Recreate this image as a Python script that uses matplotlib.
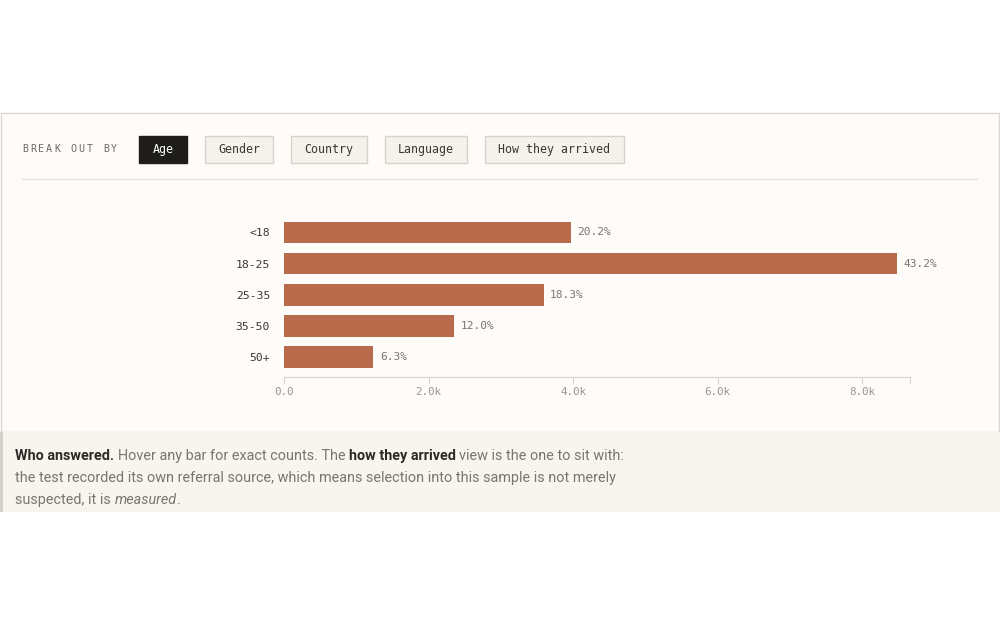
import matplotlib
matplotlib.use("Agg")
import matplotlib.pyplot as plt
from matplotlib.patches import Rectangle
from matplotlib.ticker import FuncFormatter

# data
ages = ["<18", "18-25", "25-35", "35-50", "50+"]
counts = [3965, 8480, 3590, 2350, 1235]
shares = ["20.2%", "43.2%", "18.3%", "12.0%", "6.3%"]
x_ticks = [0, 2000, 4000, 6000, 8000]
x_max = 8660
buttons = ["Age", "Gender", "Country", "Language", "How they arrived"]
active = "Age"

BAR = "#b86a4a"
INK = "#2b2825"
GREY = "#7a746d"
MONO = ["DejaVu Sans Mono"]
SANS = ["Roboto", "DejaVu Sans"]

fig = plt.figure(figsize=(10, 6.25), dpi=100)
fig.patch.set_facecolor("white")

bg = fig.add_axes([0, 0, 1, 1])
bg.set_xlim(0, 1000)
bg.set_ylim(625, 0)
bg.axis("off")

# card
bg.add_patch(Rectangle((1, 113), 998, 319, facecolor="#fdfcf9",
                       edgecolor="#dcd8d0", lw=1))
# caption band
bg.add_patch(Rectangle((0, 432), 1000, 80, facecolor="#f8f5ef", edgecolor="none"))
bg.add_patch(Rectangle((0, 432), 2.5, 80, facecolor="#d6d1c7", edgecolor="none"))

# "BREAK OUT BY" with letter spacing
x = 22
for ch in "BREAK OUT BY":
    bg.text(x, 149, ch, family=MONO, fontsize=7.2, color="#6f6a64",
            va="center", ha="left")
    x += 8.1

# buttons
btn_x = [139, 205, 291, 385, 485]
btn_w = [48, 68, 76, 82, 139]
for label, bx, bw in zip(buttons, btn_x, btn_w):
    on = label == active
    bg.add_patch(Rectangle((bx, 135.5), bw, 27, facecolor="#1f1d1a" if on else "#f5f2ec",
                           edgecolor="#1f1d1a" if on else "#d8d3ca", lw=1))
    bg.text(bx + bw / 2, 149.5, label, family=MONO, fontsize=8.4,
            color="white" if on else "#3a3632", ha="center", va="center")

bg.plot([22, 977], [179, 179], color="#e6e2da", lw=1)

# chart
ax = fig.add_axes([284 / 1000, (625 - 377) / 625, (910 - 284) / 1000, (377 - 211) / 625])
ax.set_facecolor("none")
ypos = list(range(len(ages)))
ax.barh(ypos, counts, height=0.7, color=BAR)
ax.set_ylim(4.65, -0.69)
ax.set_xlim(0, x_max)
for y, c, s in zip(ypos, counts, shares):
    ax.text(c + 90, y, s, family=MONO, fontsize=8.0, color=GREY, va="center", ha="left")

for side in ["top", "right", "left"]:
    ax.spines[side].set_visible(False)
ax.spines["bottom"].set_color("#d6d2ca")
ax.set_yticks(ypos)
ax.set_yticklabels(ages, family=MONO, fontsize=8.2, color="#3a3632")
ax.tick_params(axis="y", length=0, pad=10)
ax.set_xticks(x_ticks + [x_max])
ax.xaxis.set_major_formatter(FuncFormatter(
    lambda v, p: "" if v == x_max else ("0.0" if v == 0 else f"{v / 1000:.1f}k")))
ax.tick_params(axis="x", length=5, color="#d6d2ca", labelcolor="#9a948d", pad=2)
for t in ax.get_xticklabels():
    t.set_family(MONO)
    t.set_fontsize(7.8)

# caption with mixed styles
renderer = fig.canvas.get_renderer()


def width(t):
    return t.get_window_extent(renderer).width


def space_width(**kw):
    a = bg.text(0, 0, "a a", **kw)
    b = bg.text(0, 0, "aa", **kw)
    w = width(a) - width(b)
    a.remove()
    b.remove()
    return w


cap_size = 10.4
lines = [
    [("Who answered.", "bold", "normal", INK),
     ("Hover any bar for exact counts. The", "normal", "normal", GREY),
     ("how they arrived", "bold", "normal", INK),
     ("view is the one to sit with:", "normal", "normal", GREY)],
    [("the test recorded its own referral source, which means selection into this sample is not merely",
      "normal", "normal", GREY)],
    [("suspected, it is", "normal", "normal", GREY),
     ("measured", "normal", "italic", GREY),
     (".", "normal", "normal", GREY)],
]
line_y = [456, 478, 500]
for pieces, ly in zip(lines, line_y):
    x = 15
    for i, (txt, weight, style, col) in enumerate(pieces):
        if i > 0 and txt != ".":
            x += space_width(family=SANS, fontsize=cap_size)
        t = bg.text(x, ly, txt, family=SANS, fontsize=cap_size, fontweight=weight,
                    fontstyle=style, color=col, va="center", ha="left")
        x += width(t)

fig.savefig("out.png", dpi=100, facecolor=fig.get_facecolor())
